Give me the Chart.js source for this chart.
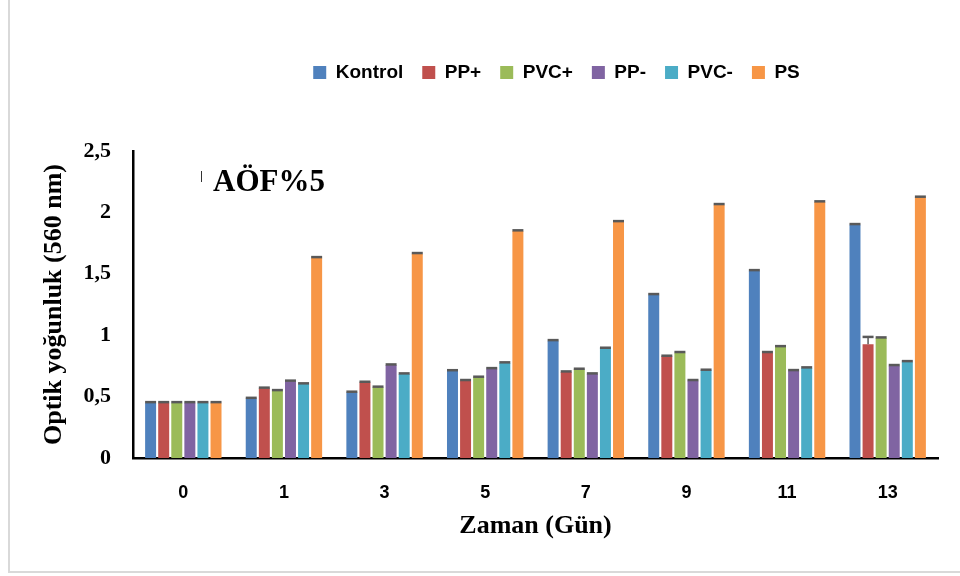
<!DOCTYPE html>
<html>
<head>
<meta charset="utf-8">
<script src="https://cdn.jsdelivr.net/npm/chart.js@4"></script>
<style>
  html, body { margin: 0; padding: 0; background: #fff; }
  .frame { position: absolute; left: 8px; top: 0; width: 952px; height: 573px;
           border-left: 2px solid #d9d9d9; border-bottom: 2px solid #d9d9d9; box-sizing: border-box; }
  .wrap { position: absolute; left: 0; top: 0; width: 960px; height: 576px; }
</style>
</head>
<body>
<div class="frame"></div>
<div class="wrap"><canvas class="chart" width="960" height="576"></canvas></div>
<script>
const days = ["0", "1", "3", "5", "7", "9", "11", "13"];
const seriesNames = ["Kontrol", "PP+", "PVC+", "PP-", "PVC-", "PS"];
const colors = ["#4F81BD", "#C0504D", "#9BBB59", "#8064A2", "#4BACC6", "#F79646"];

const kontrol = [0.45, 0.485, 0.535, 0.71, 0.955, 1.33, 1.525, 1.90];
const ppPlus  = [0.45, 0.568, 0.616, 0.63, 0.70, 0.828, 0.858, 0.926];
const pvcPlus = [0.45, 0.548, 0.576, 0.657, 0.722, 0.858, 0.906, 0.977];
const ppMinus = [0.45, 0.625, 0.757, 0.727, 0.684, 0.63, 0.711, 0.752];
const pvcMinus = [0.45, 0.603, 0.684, 0.774, 0.893, 0.714, 0.733, 0.784];
const ps      = [0.45, 1.631, 1.664, 1.849, 1.924, 2.063, 2.085, 2.123];

// error values (mostly tiny)
const errSmall = [0.005, 0.005, 0.005, 0.005, 0.005, 0.005, 0.005, 0.005];
const errPPplus = [0.005, 0.005, 0.005, 0.005, 0.005, 0.005, 0.005, 0.06];

const yTicks = [0, 0.5, 1, 1.5, 2, 2.5];

const values = [kontrol, ppPlus, pvcPlus, ppMinus, pvcMinus, ps];
const errors = [errSmall, errPPplus, errSmall, errSmall, errSmall, errSmall];

const serif = "'Liberation Serif', 'Times New Roman', serif";
const sans = "'Liberation Sans', Arial, sans-serif";

const errorBars = {
  id: "errorBars",
  afterDatasetsDraw(chart) {
    const c = chart.ctx;
    const y = chart.scales.y;
    c.save();
    c.strokeStyle = "#595959";
    chart.data.datasets.forEach((ds, i) => {
      const meta = chart.getDatasetMeta(i);
      meta.data.forEach((bar, j) => {
        const top = y.getPixelForValue(ds.data[j] + ds.err[j]);
        c.lineWidth = 1.5;
        c.beginPath();
        c.moveTo(bar.x, bar.y);
        c.lineTo(bar.x, top);
        c.stroke();
        c.lineWidth = 2.5;
        c.beginPath();
        c.moveTo(bar.x - bar.width / 2, top);
        c.lineTo(bar.x + bar.width / 2, top);
        c.stroke();
      });
    });
    c.restore();
  }
};

// legend sits higher and more to the right than Chart.js puts it
const legendSpace = {
  id: "legendSpace",
  beforeUpdate(chart) {
    const lg = chart.legend;
    if (lg && !lg._patched) {
      const fit = lg.fit;
      lg.fit = function () { fit.call(this); this.height = 107; };
      lg._patched = true;
    }
  },
  afterLayout(chart) {
    chart.legend.left += 70;
    chart.legend.right += 70;
  }
};

const note = {
  id: "note",
  afterDraw(chart) {
    const c = chart.ctx;
    c.save();
    c.strokeStyle = "#333";
    c.lineWidth = 1;
    c.beginPath();
    c.moveTo(201.5, 171);
    c.lineTo(201.5, 182);
    c.stroke();
    c.fillStyle = "#000";
    c.font = "bold 31px " + serif;
    c.textBaseline = "alphabetic";
    c.fillText("AÖF%5", 213, 191);
    c.restore();
  }
};

new Chart(document.querySelector(".chart"), {
  type: "bar",
  data: {
    labels: days,
    datasets: seriesNames.map((name, i) => ({
      label: name,
      data: values[i],
      err: errors[i],
      backgroundColor: colors[i],
      borderWidth: 0,
      categoryPercentage: 0.78,
      barPercentage: 0.84,
    })),
  },
  options: {
    responsive: false,
    animation: false,
    layout: { padding: { left: 35, right: 22, top: 44, bottom: 30 } },
    scales: {
      x: {
        afterFit(scale) { scale.height = 576 - 458 - 30; },
        grid: { display: false, drawTicks: false },
        border: { color: "#000", width: 2.5 },
        ticks: { color: "#000", padding: 24, font: { family: sans, size: 18, weight: "bold" } },
        title: { display: true, text: "Zaman (Gün)", color: "#000", padding: { top: 10, bottom: 4 },
                 font: { family: serif, size: 26, weight: "bold" } },
      },
      y: {
        min: 0,
        max: 2.5,
        afterFit(scale) { scale.width = 133 - 35; },
        afterBuildTicks(scale) { scale.ticks = yTicks.map(v => ({ value: v })); },
        grid: { display: false, drawTicks: false },
        border: { color: "#000", width: 2.5 },
        ticks: {
          color: "#000",
          padding: 22,
          font: { family: serif, size: 22, weight: "bold" },
          callback: v => String(v).replace(".", ","),
        },
        title: { display: true, text: "Optik yoğunluk (560 nm)", color: "#000", padding: 4,
                 font: { family: serif, size: 26, weight: "bold" } },
      },
    },
    plugins: {
      legend: {
        position: "top",
        labels: {
          color: "#000",
          boxWidth: 13,
          boxHeight: 13,
          padding: 19,
          font: { family: sans, size: 19, weight: "bold" },
        },
      },
      tooltip: { enabled: false },
    },
  },
  plugins: [errorBars, legendSpace, note],
});
</script>
</body>
</html>
